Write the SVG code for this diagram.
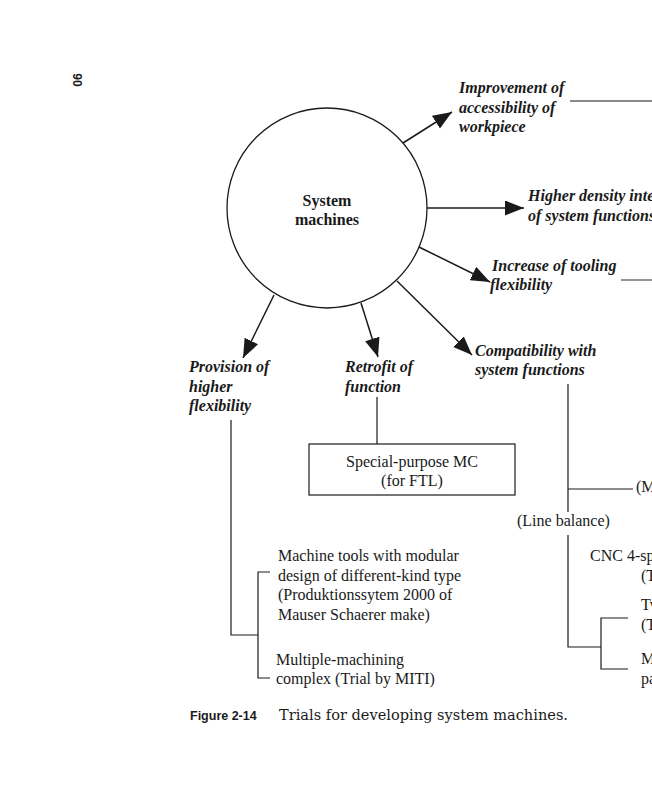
<svg xmlns="http://www.w3.org/2000/svg" width="652" height="800" viewBox="0 0 652 800">
<style>
.lbl{font-family:"Liberation Serif","Times New Roman",serif;font-weight:bold;font-style:italic;font-size:16px;fill:#1a1a1a}
.txt{font-family:"Liberation Serif","Times New Roman",serif;font-size:16px;fill:#1a1a1a}
.ln{stroke:#1a1a1a;stroke-width:1.2;fill:none}
.gr{stroke:#8a8a8a;stroke-width:1.8;fill:none}
.arr{stroke:#1a1a1a;stroke-width:1.5;fill:none;marker-end:url(#ah)}
</style>
<defs>
<marker id="ah" markerUnits="userSpaceOnUse" markerWidth="20" markerHeight="16" refX="19" refY="7.5" orient="auto">
<path d="M0,0 L19,7.5 L0,15 z" fill="#1a1a1a"/>
</marker>
</defs>
<rect width="652" height="800" fill="#fff"/>
<text transform="translate(73,80) rotate(90)" text-anchor="middle" style="font-family:'Liberation Sans',Arial,sans-serif;font-weight:bold;font-size:12px;fill:#1a1a1a">90</text>

<g id="connectors">
<line class="arr" x1="403" y1="143" x2="452" y2="112"/>
<line class="arr" x1="427" y1="208" x2="524" y2="208"/>
<line class="arr" x1="419" y1="247" x2="490" y2="282"/>
<line class="arr" x1="397" y1="281" x2="472" y2="355"/>
<line class="arr" x1="361" y1="303" x2="378" y2="357"/>
<line class="arr" x1="274" y1="295" x2="243" y2="358"/>
<line class="gr" x1="570" y1="101" x2="652" y2="101"/>
<line class="gr" x1="621" y1="280" x2="652" y2="280"/>
<line class="ln" x1="377" y1="397" x2="377" y2="444"/>
<polyline class="ln" points="231,420 231,635 258,635"/>
<polyline class="ln" points="270,572 258,572 258,678 270,678"/>
<line class="ln" x1="568" y1="384" x2="568" y2="512"/>
<line class="ln" x1="568" y1="489" x2="633" y2="489"/>
<polyline class="ln" points="568,535 568,647 601,647"/>
<polyline class="ln" points="628,618 601,618 601,669 628,669"/>
</g>

<g id="center">
<circle cx="327" cy="208" r="100" fill="none" stroke="#1a1a1a" stroke-width="1.3"/>
<text x="327" y="206" text-anchor="middle" class="txt" style="font-weight:bold">System</text>
<text x="327" y="225" text-anchor="middle" class="txt" style="font-weight:bold">machines</text>
</g>

<g id="n-access">
<text class="lbl" x="459" y="93">Improvement of</text>
<text class="lbl" x="459" y="113">accessibility of</text>
<text class="lbl" x="459" y="132">workpiece</text>
</g>
<g id="n-density">
<text class="lbl" x="528" y="201">Higher density inte</text>
<text class="lbl" x="528" y="221">of system functions</text>
</g>
<g id="n-tooling">
<text class="lbl" x="492" y="271">Increase of tooling</text>
<text class="lbl" x="490" y="290">flexibility</text>
</g>
<g id="n-compat">
<text class="lbl" x="475" y="356">Compatibility with</text>
<text class="lbl" x="475" y="375">system functions</text>
</g>
<g id="n-retrofit">
<text class="lbl" x="345" y="372">Retrofit of</text>
<text class="lbl" x="345" y="392">function</text>
</g>
<g id="n-provision">
<text class="lbl" x="189" y="372">Provision of</text>
<text class="lbl" x="189" y="392">higher</text>
<text class="lbl" x="189" y="411">flexibility</text>
</g>
<g id="n-special">
<rect x="309" y="444" width="206" height="51" fill="none" stroke="#1a1a1a" stroke-width="1.2"/>
<text class="txt" x="412" y="467" text-anchor="middle">Special-purpose MC</text>
<text class="txt" x="412" y="486" text-anchor="middle">(for FTL)</text>
</g>
<g id="n-modular">
<text class="txt" x="278" y="561">Machine tools with modular</text>
<text class="txt" x="278" y="581">design of different-kind type</text>
<text class="txt" x="278" y="600">(Produktionssytem 2000 of</text>
<text class="txt" x="278" y="620">Mauser Schaerer make)</text>
</g>
<g id="n-multiple">
<text class="txt" x="276" y="665">Multiple-machining</text>
<text class="txt" x="276" y="684">complex (Trial by MITI)</text>
</g>
<g id="n-linebalance">
<text class="txt" x="517" y="526">(Line balance)</text>
</g>
<g id="n-m">
<text class="txt" x="636" y="492">(M</text>
</g>
<g id="n-cnc">
<text class="txt" x="590" y="561">CNC 4-sp</text>
<text class="txt" x="641" y="581">(T</text>
</g>
<g id="n-tw">
<text class="txt" x="641" y="610">Tw</text>
<text class="txt" x="641" y="630">(T</text>
</g>
<g id="n-mpa">
<text class="txt" x="641" y="664">M</text>
<text class="txt" x="641" y="684">pa</text>
</g>

<g id="caption">
<text x="190" y="720" style="font-family:'Liberation Sans',Arial,sans-serif;font-weight:bold;font-size:12.5px;fill:#1a1a1a">Figure 2-14</text>
<text x="279" y="720" style="font-family:'DejaVu Serif',serif;font-size:14px;fill:#1a1a1a" textLength="289" lengthAdjust="spacingAndGlyphs">Trials for developing system machines.</text>
</g>
</svg>
